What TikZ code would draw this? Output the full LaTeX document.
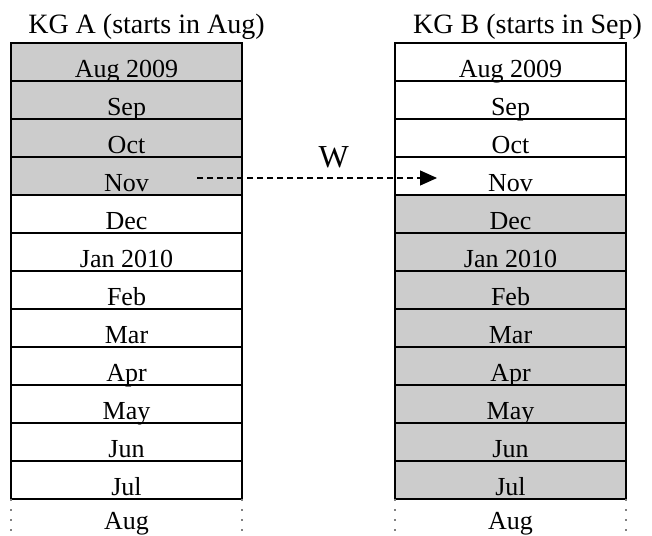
\documentclass[tikz,border=0pt]{standalone}
\usepackage{fontspec}
\setmainfont{Liberation Serif}
\usetikzlibrary{positioning,arrows.meta}
\definecolor{shade}{HTML}{CCCCCC}

\tikzset{
  month/.style={draw,line width=1.2pt,minimum width=231pt,minimum height=38pt,
    inner sep=0pt,outer sep=0pt,text height=34pt,text depth=4pt,
    font=\fontsize{26}{30}\selectfont},
  taken/.style={month,fill=shade},
  lastrow/.style={month,draw=none,text height=30pt,text depth=8pt},
  kgtitle/.style={anchor=base,font=\fontsize{28}{32}\selectfont},
  gap/.style={gray,line width=1.5pt,dash pattern=on 1.5pt off 8.5pt}
}

\begin{document}
\begin{tikzpicture}[x=1pt,y=1pt]
\useasboundingbox (0,0) rectangle (652,-535);

% KG A
\node[taken] (a1) at (126.5,-62) {Aug 2009};
\node[taken,below=0pt of a1] (a2) {Sep};
\node[taken,below=0pt of a2] (a3) {Oct};
\node[taken,below=0pt of a3] (a4) {Nov};
\node[month,below=0pt of a4] (a5) {Dec};
\node[month,below=0pt of a5] (a6) {Jan 2010};
\node[month,below=0pt of a6] (a7) {Feb};
\node[month,below=0pt of a7] (a8) {Mar};
\node[month,below=0pt of a8] (a9) {Apr};
\node[month,below=0pt of a9] (a10) {May};
\node[month,below=0pt of a10] (a11) {Jun};
\node[month,below=0pt of a11] (a12) {Jul};
\node[lastrow,below=0pt of a12] (a13) {Aug};
\draw[gap] (a12.south west) -- (a13.south west);
\draw[gap] (a12.south east) -- (a13.south east);
\node[kgtitle] (ta) at ([xshift=20pt,yshift=9pt]a1.north) {KG A (starts in Aug)};

% KG B
\begin{scope}[shift={(384,0)}]
\node[month] (b1) at (126.5,-62) {Aug 2009};
\node[month,below=0pt of b1] (b2) {Sep};
\node[month,below=0pt of b2] (b3) {Oct};
\node[month,below=0pt of b3] (b4) {Nov};
\node[taken,below=0pt of b4] (b5) {Dec};
\node[taken,below=0pt of b5] (b6) {Jan 2010};
\node[taken,below=0pt of b6] (b7) {Feb};
\node[taken,below=0pt of b7] (b8) {Mar};
\node[taken,below=0pt of b8] (b9) {Apr};
\node[taken,below=0pt of b9] (b10) {May};
\node[taken,below=0pt of b10] (b11) {Jun};
\node[taken,below=0pt of b11] (b12) {Jul};
\node[lastrow,below=0pt of b12] (b13) {Aug};
\draw[gap] (b12.south west) -- (b13.south west);
\draw[gap] (b12.south east) -- (b13.south east);
\node[kgtitle] (tb) at ([xshift=17pt,yshift=9pt]b1.north) {KG B (starts in Sep)};
\end{scope}

\draw[-{Triangle[length=17pt,width=15pt]},line width=1.2pt,dash pattern=on 6pt off 4pt]
  ([xshift=-45pt,yshift=-2pt]a4.east) -- ([xshift=42pt,yshift=-2pt]b4.west)
  node[pos=0.57,above=6pt,font=\fontsize{32}{36}\selectfont] (w) {W};

\end{tikzpicture}
\end{document}
